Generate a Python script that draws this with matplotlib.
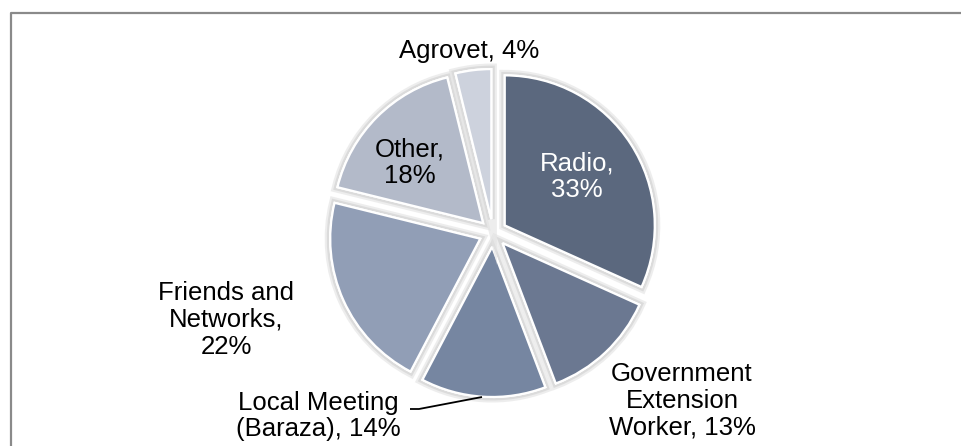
import matplotlib.pyplot as plt
import matplotlib.patheffects as pe

# data
sources = ["Radio", "Government\nExtension\nWorker", "Local Meeting\n(Baraza)",
           "Friends and\nNetworks", "Other", "Agrovet"]
shares = [33, 13, 14, 22, 18, 4]
label_sep = [",\n", ", ", ", ", ",\n", ",\n", ", "]

colors = ["#5b687e", "#6b7891", "#7686a1", "#919eb6", "#b3bac9", "#cdd2dd"]
text_colors = ["white", "black", "black", "black", "black", "black"]
# label centres in pixels (x, y from top)
label_pos = [(577, 177), (682, 401), (318, 416), (226, 320), (410, 163), (469, 51)]

W, H = 961, 446
fig = plt.figure(figsize=(W / 100, H / 100), dpi=100)
ax = fig.add_axes([0, 0, 1, 1])

# pie drawn in pixel units; explode is an offset in data units (px)
wedges, _ = ax.pie(
    shares,
    colors=colors,
    startangle=90,
    counterclock=False,
    explode=[14] * len(shares),
    center=(493, H - 233),
    radius=150,
    frame=True,
    wedgeprops=dict(edgecolor="white", linewidth=1.6),
)
ax.set_xlim(0, W)
ax.set_ylim(0, H)
ax.set_aspect("auto")
ax.axis("off")
# soft grey glow around each slice
for w in wedges:
    w.set_path_effects([
        pe.withStroke(linewidth=8, foreground="#e2e2e2", alpha=0.6),
        pe.withStroke(linewidth=5, foreground="#d0d0d0", alpha=0.6),
        pe.Normal(),
    ])

for name, sep, v, (x, y), tc in zip(sources, label_sep, shares, label_pos, text_colors):
    ax.text(x, H - y, f"{name}{sep}{v}%", ha="center", va="center", fontsize=18.5,
            family="Liberation Sans", color=tc, linespacing=1.15)

# leader line for Local Meeting
ax.plot([410, 419, 482], [H - 409, H - 409, H - 397], color="black", lw=1.3,
        solid_capstyle="butt")

# chart frame
ax.plot([11, 11, W], [0, H - 13, H - 13], color="#8a8a8a", lw=1.6)

fig.savefig("out.png", dpi=100, facecolor="white")
